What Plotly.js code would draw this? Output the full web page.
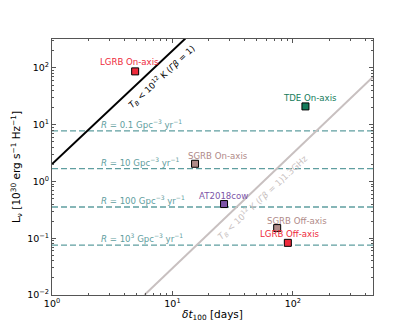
<!DOCTYPE html>
<html>
<head>
<meta charset="utf-8">
<script src="https://cdn.plot.ly/plotly-3.0.1.min.js"></script>
<style>body{margin:0;} #plot{width:415px;height:332px;}</style>
</head>
<body>
<div id="plot"></div>
<script>
// transient classes: duration above 100 (days) and peak luminosity (1e30 erg/s/Hz)
const sourceNames = ['LGRB On-axis', 'TDE On-axis', 'SGRB On-axis', 'AT2018cow', 'SGRB Off-axis', 'LGRB Off-axis'];
const sourceT = [4.9, 127, 15.4, 26.8, 74, 90.7];
const sourceL = [87, 21, 2.05, 0.40, 0.151, 0.083];
const sourceColors = ['#ee2a3b', '#137b5b', '#b08a88', '#7d55a8', '#b08a88', '#ee2a3b'];
// label offsets (px) relative to each marker
const labelDx = [-6, 5, 23, -1, 20, 2];
const labelDy = [9, 8, 8, 8.5, 7, 8.5];

// rate lines
const rateLabels = ['0.1', '10', '100', '10<sup>3</sup>'];
const rateL = [7.8, 1.68, 0.355, 0.0755];

// brightness temperature limits
const tbT = [1, 12.8];
const tbL = [2.03, 330];
const tbGhzT = [5.85, 470];
const tbGhzL = [0.01, 72];

const xMax = 462;
const fontFam = 'DejaVu Sans, Liberation Sans, sans-serif';
const rateColor = '#5f9ea0';

const traces = [];
rateL.forEach(v => {
    traces.push({
        x: [1, xMax], y: [v, v],
        type: 'scatter', mode: 'lines',
        line: {color: rateColor, width: 1.3, dash: '6px,3px'},
        hoverinfo: 'skip'
    });
});

traces.push({
    x: tbT, y: tbL, type: 'scatter', mode: 'lines',
    line: {color: 'black', width: 2}
});
traces.push({
    x: tbGhzT, y: tbGhzL, type: 'scatter', mode: 'lines',
    line: {color: '#c8c0c0', width: 2}
});

traces.push({
    x: sourceT, y: sourceL, type: 'scatter', mode: 'markers',
    marker: {symbol: 'square', size: 7, color: sourceColors, line: {color: 'black', width: 1}},
    cliponaxis: false
});

const annotations = [];
sourceNames.forEach((name, i) => {
    annotations.push({
        x: Math.log10(sourceT[i]), y: Math.log10(sourceL[i]),
        xref: 'x', yref: 'y',
        text: name, showarrow: false,
        xanchor: 'center', yanchor: 'middle',
        xshift: labelDx[i], yshift: labelDy[i],
        font: {family: fontFam, size: 8.6, color: sourceColors[i]}
    });
});
rateLabels.forEach((r, i) => {
    annotations.push({
        x: Math.log10(2.47), y: Math.log10(rateL[i]),
        xref: 'x', yref: 'y',
        text: `<i>R</i> = ${r} Gpc<sup>−3</sup> yr<sup>−1</sup>`,
        showarrow: false, xanchor: 'left', yanchor: 'bottom', yshift: -1,
        font: {family: fontFam, size: 8.6, color: rateColor}
    });
});
annotations.push({
    x: 0.911, y: 1.852, xref: 'x', yref: 'y',
    text: '<i>T</i><sub><i>B</i></sub> &lt; 10<sup>12</sup> K (<i>Γβ</i> = 1)',
    showarrow: false, textangle: -43,
    font: {family: fontFam, size: 8.6, color: 'black'}
});
annotations.push({
    x: 1.745, y: -0.275, xref: 'x', yref: 'y',
    text: '<i>T</i><sub><i>B</i></sub> &lt; 10<sup>12</sup> K (<i>Γβ</i> = 1)1.3GHz',
    showarrow: false, textangle: -43,
    font: {family: fontFam, size: 8.6, color: '#c8c0c0'}
});

function minorVals(lo, hi) {
    const v = [];
    for (let e = lo; e <= hi; e++) {
        for (let m = 2; m <= 9; m++) v.push(m * Math.pow(10, e));
    }
    return v;
}

const axisCommon = {
    type: 'log',
    showline: true, mirror: 'ticks', linecolor: '#555', linewidth: 1,
    ticks: 'inside', ticklen: 4, tickcolor: '#555', tickwidth: 1,
    showgrid: false, zeroline: false,
    tickfont: {family: fontFam, size: 9.5, color: 'black'}
};

const layout = {
    width: 415, height: 332,
    margin: {l: 52, r: 42, t: 39, b: 37},
    paper_bgcolor: 'white', plot_bgcolor: 'white',
    showlegend: false,
    xaxis: Object.assign({}, axisCommon, {
        range: [0, Math.log10(xMax)],
        tickmode: 'array',
        tickvals: [1, 10, 100],
        ticktext: ['10<sup>0</sup>', '10<sup>1</sup>', '10<sup>2</sup>'],
        minor: {ticks: 'inside', ticklen: 2, tickcolor: '#555', tickvals: minorVals(0, 2), showgrid: false},
        title: {text: '<i>δt</i><sub>100</sub> [days]', standoff: 2,
                font: {family: fontFam, size: 10.5, color: 'black'}}
    }),
    yaxis: Object.assign({}, axisCommon, {
        range: [-2, 2.51],
        tickmode: 'array',
        tickvals: [0.01, 0.1, 1, 10, 100],
        ticktext: ['10<sup>−2</sup>', '10<sup>−1</sup>', '10<sup>0</sup>', '10<sup>1</sup>', '10<sup>2</sup>'],
        minor: {ticks: 'inside', ticklen: 2, tickcolor: '#555', tickvals: minorVals(-2, 2), showgrid: false},
        title: {text: 'L<sub>ν</sub> [10<sup>30</sup> erg s<sup>−1</sup> Hz<sup>−1</sup>]', standoff: 4,
                font: {family: fontFam, size: 10.5, color: 'black'}}
    }),
    annotations: annotations
};

Plotly.newPlot('plot', traces, layout, {displayModeBar: false, staticPlot: true});
</script>
</body>
</html>
